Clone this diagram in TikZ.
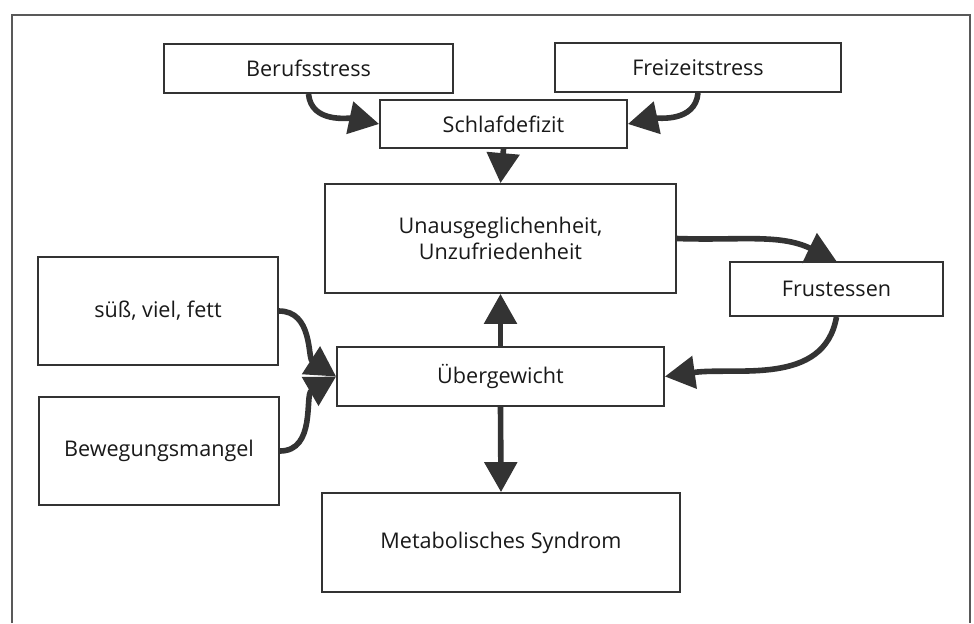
\documentclass[tikz,border=0pt]{standalone}
\usepackage{fontspec}
\setmainfont{Open Sans}
\usetikzlibrary{arrows.meta}

\begin{document}
\begin{tikzpicture}[x=0.5pt, y=0.5pt, every node/.style={font=\fontsize{10.8}{13}\selectfont, text=black!90},
    box/.style={draw=black!80, line width=0.9pt, align=center, inner sep=0pt},
    flow/.style={draw=black!80, line width=2.8pt, -{Triangle[length=15pt,width=16pt]}}]
      % Frame open at the bottom, boxes placed on the page grid
      \useasboundingbox (0,0) rectangle (974,-623);
      \draw[black!65, line width=0.8pt] (12,-623) |- (970,-15) -- (970,-623);

      \node[box, minimum width=144.5pt, minimum height=24.5pt] (beruf) at (308.5,-68.5) {Berufsstress};
      \node[box, minimum width=143pt, minimum height=24.5pt] (freizeit) at (698,-67.5) {Freizeitstress};
      \node[box, minimum width=123.5pt, minimum height=24pt] (schlaf) at (503.5,-124) {Schlafdefizit};
      \node[box, minimum width=175.5pt, minimum height=54.5pt] (unaus) at (500.5,-238.5) {Unausgeglichenheit,\\Unzufriedenheit};
      \node[box, minimum width=106.5pt, minimum height=27pt] (frust) at (836.5,-289) {Frustessen};
      \node[box, minimum width=120pt, minimum height=54pt] (suess) at (158,-311) {süß, viel, fett};
      \node[box, minimum width=163.5pt, minimum height=29.5pt] (uber) at (500.5,-376.5) {Übergewicht};
      \node[box, minimum width=120pt, minimum height=54pt] (beweg) at (159,-451) {Bewegungsmangel};
      \node[box, minimum width=179pt, minimum height=49.5pt] (metab) at (501,-542.5) {Metabolisches Syndrom};

      \draw[flow] (beruf.south) to[out=-85, in=168] (schlaf.west);
      \draw[flow] (freizeit.south) to[out=-95, in=12] (schlaf.east);
      \draw[flow] (schlaf.south) -- (unaus.north);
      \draw[flow] (uber.north) -- (unaus.south);
      \draw[flow] (unaus.east) to[out=-2, in=154] (frust.north);
      \draw[flow] (frust.south) to[out=-100, in=8] (uber.east);
      \draw[flow] (suess.east) to[out=0, in=147] (uber.west);
      \draw[flow] (beweg.east) to[out=0, in=-150] (uber.west);
      \draw[flow] (uber.south) -- (metab.north);
    \end{tikzpicture}
\end{document}
